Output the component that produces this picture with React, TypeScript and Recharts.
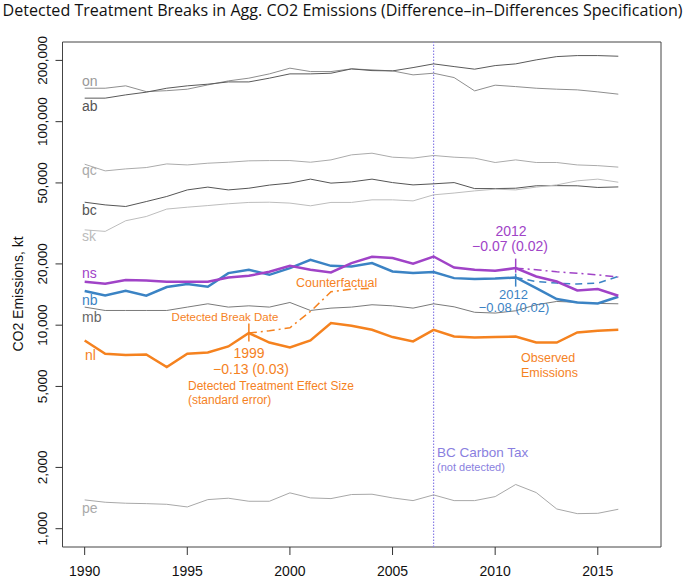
import React from "react";
import { LineChart, Line, XAxis, YAxis, ReferenceLine, ReferenceArea } from "recharts";

const years = [1990, 1991, 1992, 1993, 1994, 1995, 1996, 1997, 1998, 1999, 2000, 2001, 2002, 2003,
  2004, 2005, 2006, 2007, 2008, 2009, 2010, 2011, 2012, 2013, 2014, 2015, 2016];

// emissions in kt
const on = [146000, 146000, 150000, 140500, 142000, 144400, 151600, 158600, 163600, 171700, 183200, 176300, 176300, 181700,
  179700, 177600, 169800, 173000, 164700, 141700, 151100, 148700, 146000, 144400, 143300, 140100, 136500];
const ab = [130500, 130500, 135400, 139600, 146000, 150000, 152800, 156800, 156800, 163600, 171700, 171700, 173000, 181700,
  178200, 177600, 184400, 192300, 186500, 181100, 188600, 192300, 201200, 208800, 211200, 211200, 209700];
const qc = [61800, 57300, 58600, 59500, 62000, 61300, 62500, 63200, 64200, 64400, 64400, 63200, 64900, 68700,
  70000, 66900, 66200, 68200, 66900, 66200, 63000, 64900, 63000, 63000, 61300, 60800, 59800];
const bc = [40200, 39000, 38300, 40500, 42900, 46200, 47700, 46200, 47100, 48800, 49900, 52200, 49900, 50600,
  52200, 50200, 48900, 49500, 50200, 46900, 46900, 47100, 48400, 48500, 48400, 47500, 47800];
const sk = [29400, 28900, 32600, 34200, 37200, 38000, 38700, 39500, 40100, 40200, 39800, 38600, 40100, 40100,
  41300, 41300, 40800, 43700, 44600, 45700, 46600, 46200, 47700, 48900, 51200, 52200, 50400];
const ns = [16340, 15970, 16650, 16580, 16340, 16340, 16340, 17150, 17480, 18300, 19570, 18720, 18150, 20180,
  21680, 21360, 20030, 21750, 19200, 18720, 18500, 19070, 17350, 16390, 14810, 15040, 13950];
const nb = [14710, 14000, 14760, 13950, 15390, 15920, 15440, 18030, 18720, 17680, 19070, 20950, 19570, 19430,
  20180, 18360, 18030, 18240, 17030, 16840, 16950, 17150, 15210, 13440, 12930, 12790, 13790];
const mb = [12270, 11810, 11810, 11810, 11810, 12270, 12740, 12270, 12450, 12270, 12930, 11810, 12130, 12270,
  12600, 12450, 12130, 12740, 12310, 11570, 11470, 11770, 12600, 13080, 12960, 12790, 12740];
const nl = [8410, 7240, 7130, 7180, 6230, 7240, 7340, 7860, 9150, 8220, 7770, 8410, 10240, 9930,
  9490, 8740, 8320, 9490, 8800, 8700, 8740, 8800, 8220, 8220, 9210, 9390, 9490];
const pe = [1385, 1349, 1334, 1328, 1318, 1279, 1390, 1412, 1364, 1364, 1500, 1417, 1406, 1472,
  1477, 1417, 1374, 1466, 1374, 1374, 1438, 1649, 1505, 1250, 1186, 1190, 1246];

// counterfactual paths after the detected breaks
const nlCfYears = [1998, 1999, 2000, 2001, 2002, 2003, 2004];
const nlCf = [9150, 9390, 9710, 11680, 14590, 15040, 15180];
const lateCfYears = [2011, 2012, 2013, 2014, 2015, 2016];
const nsCf = [19070, 18720, 18300, 17990, 17680, 17230];
const nbCf = [17150, 16390, 16100, 15920, 16100, 17350];

// break markers: [year, low, high]
const nlBreak = [1998, 8310, 10180];
const nsBreak = [2011, 18130, 21240];
const nbBreak = [2011, 15470, 17920];
const taxYear = 2007;

const xTicks = [1990, 1995, 2000, 2005, 2010, 2015];
const yTicks = [1000, 2000, 5000, 10000, 20000, 50000, 100000, 200000];
const xDomain = [1988.92, 2018.08];
const yDomain = [813, 246300];

const rows = years.map((year, i) => {
  const r: any = { year, on: on[i], ab: ab[i], qc: qc[i], bc: bc[i], sk: sk[i], ns: ns[i], nb: nb[i], mb: mb[i], nl: nl[i], pe: pe[i] };
  const a = nlCfYears.indexOf(year);
  if (a >= 0) r.nlCf = nlCf[a];
  const b = lateCfYears.indexOf(year);
  if (b >= 0) {
    r.nsCf = nsCf[b];
    r.nbCf = nbCf[b];
  }
  return r;
});

const taxRows = [
  { year: taxYear, tax: yDomain[0] },
  { year: taxYear, tax: yDomain[1] },
];

const FONT = "'Liberation Sans', Arial, sans-serif";
const ORANGE = "#f5821f";
const PURPLE = "#a043c7";
const BLUE = "#3b83c4";
const TAX = "#8b80e6";

const greys = [
  { key: "on", color: "#8e8e8e" },
  { key: "ab", color: "#5a5a5a" },
  { key: "qc", color: "#ababab" },
  { key: "bc", color: "#555555" },
  { key: "sk", color: "#bdbdbd" },
  { key: "mb", color: "#7a7a7a" },
  { key: "pe", color: "#a8a8a8" },
];

const XTick = (p: any) => (
  <text x={p.x} y={576} textAnchor="middle" fontSize={14} fontFamily={FONT} fill="#111">
    {p.payload.value}
  </text>
);

const YTick = (p: any) => (
  <text x={47} y={p.y} transform={`rotate(-90 47 ${p.y})`} textAnchor="middle" fontSize={13.5} fontFamily={FONT} fill="#111">
    {p.payload.value.toLocaleString("en-US")}
  </text>
);

const labels = [
  { t: "on", x: 82, y: 86, c: "#999" },
  { t: "ab", x: 82, y: 110.5, c: "#555" },
  { t: "qc", x: 82, y: 174.5, c: "#aaa" },
  { t: "bc", x: 82, y: 215, c: "#555" },
  { t: "sk", x: 82, y: 241, c: "#bbb" },
  { t: "ns", x: 82, y: 277.5, c: PURPLE },
  { t: "nb", x: 82, y: 305, c: BLUE },
  { t: "mb", x: 82, y: 321.5, c: "#666" },
  { t: "nl", x: 85, y: 360, c: ORANGE },
  { t: "pe", x: 82, y: 513, c: "#aaa" },
];

export default function App() {
  return (
    <div style={{ position: "absolute", left: 0, top: 0, width: 685, height: 578, background: "#fff" }}>
      <LineChart width={685} height={578} data={rows} margin={{ top: 42, right: 24, bottom: 0, left: 0 }}>
        <XAxis
          dataKey="year"
          type="number"
          domain={xDomain}
          ticks={xTicks}
          allowDataOverflow
          height={31}
          axisLine={false}
          tickSize={8}
          tickLine={{ stroke: "#333" }}
          tick={<XTick />}
          interval={0}
        />
        <YAxis
          scale="log"
          type="number"
          domain={yDomain}
          ticks={yTicks}
          allowDataOverflow
          width={62.5}
          axisLine={false}
          tickSize={7}
          tickLine={{ stroke: "#333" }}
          tick={<YTick />}
          interval={0}
        />
        <Line data={taxRows} dataKey="tax" stroke={TAX} strokeWidth={1.2} strokeDasharray="1.5 1.5" dot={false} isAnimationActive={false} />
        {greys.map((g) => (
          <Line key={g.key} dataKey={g.key} stroke={g.color} strokeWidth={1} dot={false} isAnimationActive={false} />
        ))}
        <Line dataKey="nlCf" stroke={ORANGE} strokeWidth={1.5} strokeDasharray="8 4 2 4" dot={false} isAnimationActive={false} />
        <Line dataKey="nsCf" stroke={PURPLE} strokeWidth={1.5} strokeDasharray="8 4 2 4" dot={false} isAnimationActive={false} />
        <Line dataKey="nbCf" stroke={BLUE} strokeWidth={1.5} strokeDasharray="7 5" dot={false} isAnimationActive={false} />
        <Line dataKey="nb" stroke={BLUE} strokeWidth={2.5} dot={false} isAnimationActive={false} />
        <Line dataKey="ns" stroke={PURPLE} strokeWidth={2.5} dot={false} isAnimationActive={false} />
        <Line dataKey="nl" stroke={ORANGE} strokeWidth={2.5} dot={false} isAnimationActive={false} />
        <ReferenceLine segment={[{ x: nlBreak[0], y: nlBreak[1] }, { x: nlBreak[0], y: nlBreak[2] }]} stroke={ORANGE} strokeWidth={1.5} />
        <ReferenceLine segment={[{ x: nsBreak[0], y: nsBreak[1] }, { x: nsBreak[0], y: nsBreak[2] }]} stroke={PURPLE} strokeWidth={1.5} />
        <ReferenceLine segment={[{ x: nbBreak[0], y: nbBreak[1] }, { x: nbBreak[0], y: nbBreak[2] }]} stroke={BLUE} strokeWidth={1.5} />
        <ReferenceArea x1={xDomain[0]} x2={xDomain[1]} y1={yDomain[0]} y2={yDomain[1]} fill="none" stroke="#444" strokeWidth={1} ifOverflow="visible" />
      </LineChart>
      <svg width={685} height={578} style={{ position: "absolute", left: 0, top: 0, pointerEvents: "none" }}>
        <text x={342.5} y={15.5} textAnchor="middle" fontSize={15.5} fontFamily="'Open Sans', sans-serif" fill="#111" textLength={680} lengthAdjust="spacingAndGlyphs">
          Detected Treatment Breaks in Agg. CO2 Emissions (Difference–in–Differences Specification)
        </text>
        <text x={23} y={294} transform="rotate(-90 23 294)" textAnchor="middle" fontSize={14} fontFamily={FONT} fill="#111">
          CO2 Emissions, kt
        </text>
        {labels.map((l) => (
          <text key={l.t} x={l.x} y={l.y} fontSize={14} fontFamily={FONT} fill={l.c}>{l.t}</text>
        ))}
        <g fontFamily={FONT} fill={ORANGE}>
          <text x={296} y={287} fontSize={12.5}>Counterfactual</text>
          <text x={225} y={320.5} fontSize={11.5} textAnchor="middle">Detected Break Date</text>
          <text x={249} y={358.3} fontSize={14} textAnchor="middle">1999</text>
          <text x={251} y={373.5} fontSize={14} textAnchor="middle">−0.13 (0.03)</text>
          <text x={188} y={390} fontSize={12}>Detected Treatment Effect Size</text>
          <text x={188} y={403.5} fontSize={12}>(standard error)</text>
          <text x={521} y={361.7} fontSize={12.5}>Observed</text>
          <text x={521} y={376.7} fontSize={12.5}>Emissions</text>
        </g>
        <g fontFamily={FONT} fill={PURPLE} fontSize={14} textAnchor="middle">
          <text x={511} y={236}>2012</text>
          <text x={510} y={250.5}>−0.07 (0.02)</text>
        </g>
        <g fontFamily={FONT} fill={BLUE} fontSize={13} textAnchor="middle">
          <text x={513.5} y={298.5}>2012</text>
          <text x={514} y={312}>−0.08 (0.02)</text>
        </g>
        <g fontFamily={FONT} fill="#8a7fe0">
          <text x={437} y={457} fontSize={13.5}>BC Carbon Tax</text>
          <text x={437} y={471} fontSize={11}>(not detected)</text>
        </g>
      </svg>
    </div>
  );
}
